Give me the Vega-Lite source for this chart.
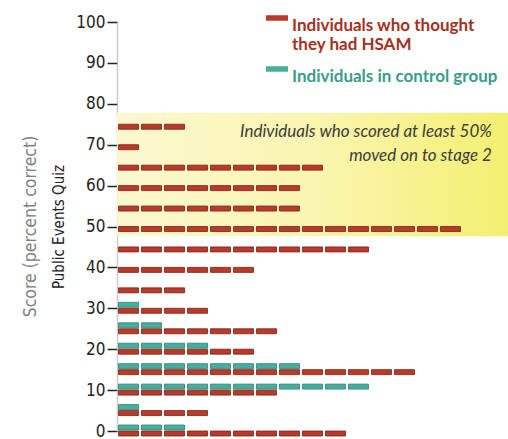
{
  "$schema": "https://vega.github.io/schema/vega-lite/v6.json",
  "width": 391,
  "height": 409,
  "autosize": {"type": "none"},
  "padding": {"left": 117, "top": 22, "right": 0, "bottom": 8},
  "background": "white",
  "config": {"view": {"stroke": null}},
  "title": {"text": "Score (percent correct)", "orient": "left", "anchor": "middle", "font": "DejaVu Sans Condensed, sans-serif", "fontSize": 17.5, "fontWeight": "normal", "color": "#808080", "offset": 12},
  "datasets": {
    "band": [{"lo": 47.6, "hi": 77.8}],
    "note": [{"x": 16.8, "y": 73, "t": "Individuals who scored at least 50%\nmoved on to stage 2"}],
    "dash": [
      {"g":"H","s":75,"i":1},{"g":"H","s":75,"i":2},{"g":"H","s":75,"i":3},
      {"g":"H","s":70,"i":1},
      {"g":"H","s":65,"i":1},{"g":"H","s":65,"i":2},{"g":"H","s":65,"i":3},{"g":"H","s":65,"i":4},{"g":"H","s":65,"i":5},{"g":"H","s":65,"i":6},{"g":"H","s":65,"i":7},{"g":"H","s":65,"i":8},{"g":"H","s":65,"i":9},
      {"g":"H","s":60,"i":1},{"g":"H","s":60,"i":2},{"g":"H","s":60,"i":3},{"g":"H","s":60,"i":4},{"g":"H","s":60,"i":5},{"g":"H","s":60,"i":6},{"g":"H","s":60,"i":7},{"g":"H","s":60,"i":8},
      {"g":"H","s":55,"i":1},{"g":"H","s":55,"i":2},{"g":"H","s":55,"i":3},{"g":"H","s":55,"i":4},{"g":"H","s":55,"i":5},{"g":"H","s":55,"i":6},{"g":"H","s":55,"i":7},{"g":"H","s":55,"i":8},
      {"g":"H","s":50,"i":1},{"g":"H","s":50,"i":2},{"g":"H","s":50,"i":3},{"g":"H","s":50,"i":4},{"g":"H","s":50,"i":5},{"g":"H","s":50,"i":6},{"g":"H","s":50,"i":7},{"g":"H","s":50,"i":8},{"g":"H","s":50,"i":9},{"g":"H","s":50,"i":10},{"g":"H","s":50,"i":11},{"g":"H","s":50,"i":12},{"g":"H","s":50,"i":13},{"g":"H","s":50,"i":14},{"g":"H","s":50,"i":15},
      {"g":"H","s":45,"i":1},{"g":"H","s":45,"i":2},{"g":"H","s":45,"i":3},{"g":"H","s":45,"i":4},{"g":"H","s":45,"i":5},{"g":"H","s":45,"i":6},{"g":"H","s":45,"i":7},{"g":"H","s":45,"i":8},{"g":"H","s":45,"i":9},{"g":"H","s":45,"i":10},{"g":"H","s":45,"i":11},
      {"g":"H","s":40,"i":1},{"g":"H","s":40,"i":2},{"g":"H","s":40,"i":3},{"g":"H","s":40,"i":4},{"g":"H","s":40,"i":5},{"g":"H","s":40,"i":6},
      {"g":"H","s":35,"i":1},{"g":"H","s":35,"i":2},{"g":"H","s":35,"i":3},
      {"g":"H","s":30,"i":1},{"g":"H","s":30,"i":2},{"g":"H","s":30,"i":3},{"g":"H","s":30,"i":4},
      {"g":"H","s":25,"i":1},{"g":"H","s":25,"i":2},{"g":"H","s":25,"i":3},{"g":"H","s":25,"i":4},{"g":"H","s":25,"i":5},{"g":"H","s":25,"i":6},{"g":"H","s":25,"i":7},
      {"g":"H","s":20,"i":1},{"g":"H","s":20,"i":2},{"g":"H","s":20,"i":3},{"g":"H","s":20,"i":4},{"g":"H","s":20,"i":5},{"g":"H","s":20,"i":6},
      {"g":"H","s":15,"i":1},{"g":"H","s":15,"i":2},{"g":"H","s":15,"i":3},{"g":"H","s":15,"i":4},{"g":"H","s":15,"i":5},{"g":"H","s":15,"i":6},{"g":"H","s":15,"i":7},{"g":"H","s":15,"i":8},{"g":"H","s":15,"i":9},{"g":"H","s":15,"i":10},{"g":"H","s":15,"i":11},{"g":"H","s":15,"i":12},{"g":"H","s":15,"i":13},
      {"g":"H","s":10,"i":1},{"g":"H","s":10,"i":2},{"g":"H","s":10,"i":3},{"g":"H","s":10,"i":4},{"g":"H","s":10,"i":5},{"g":"H","s":10,"i":6},{"g":"H","s":10,"i":7},
      {"g":"H","s":5,"i":1},{"g":"H","s":5,"i":2},{"g":"H","s":5,"i":3},{"g":"H","s":5,"i":4},
      {"g":"H","s":0,"i":1},{"g":"H","s":0,"i":2},{"g":"H","s":0,"i":3},{"g":"H","s":0,"i":4},{"g":"H","s":0,"i":5},{"g":"H","s":0,"i":6},{"g":"H","s":0,"i":7},{"g":"H","s":0,"i":8},{"g":"H","s":0,"i":9},{"g":"H","s":0,"i":10},
      {"g":"C","s":30,"i":1},
      {"g":"C","s":25,"i":1},{"g":"C","s":25,"i":2},
      {"g":"C","s":20,"i":1},{"g":"C","s":20,"i":2},{"g":"C","s":20,"i":3},{"g":"C","s":20,"i":4},
      {"g":"C","s":15,"i":1},{"g":"C","s":15,"i":2},{"g":"C","s":15,"i":3},{"g":"C","s":15,"i":4},{"g":"C","s":15,"i":5},{"g":"C","s":15,"i":6},{"g":"C","s":15,"i":7},{"g":"C","s":15,"i":8},
      {"g":"C","s":10,"i":1},{"g":"C","s":10,"i":2},{"g":"C","s":10,"i":3},{"g":"C","s":10,"i":4},{"g":"C","s":10,"i":5},{"g":"C","s":10,"i":6},{"g":"C","s":10,"i":7},{"g":"C","s":10,"i":8},{"g":"C","s":10,"i":9},{"g":"C","s":10,"i":10},{"g":"C","s":10,"i":11},
      {"g":"C","s":5,"i":1},
      {"g":"C","s":0,"i":1},{"g":"C","s":0,"i":2},{"g":"C","s":0,"i":3}
    ]
  },
  "layer": [
    {
      "data": {"name": "band"},
      "mark": {"type": "rect", "fill": {"gradient": "linear", "x1": 0, "y1": 0, "x2": 1, "y2": 0, "stops": [{"offset": 0, "color": "#fbf8d0"}, {"offset": 0.5, "color": "#faf5b0"}, {"offset": 1, "color": "#f3ef70"}]}},
      "encoding": {
        "y": {
          "field": "lo", "type": "quantitative",
          "scale": {"domain": [0, 100], "nice": false},
          "axis": {
            "title": "Public Events Quiz",
            "titleFont": "DejaVu Sans Condensed, sans-serif",
            "titleFontSize": 15,
            "titleFontWeight": "normal",
            "titleColor": "#222222",
            "titlePadding": 9,
            "values": [0, 10, 20, 30, 40, 50, 60, 70, 80, 90, 100],
            "labelFont": "DejaVu Sans Condensed, sans-serif",
            "labelFontSize": 17,
            "labelColor": "#222222",
            "labelPadding": 2,
            "tickSize": 10,
            "tickColor": "#222222",
            "tickWidth": 1.5,
            "domainColor": "#9a9a9a",
            "domainDash": [1, 1],
            "domainWidth": 1.5,
            "grid": false
          }
        },
        "y2": {"field": "hi"}
      }
    },
    {
      "data": {"name": "note"},
      "mark": {"type": "text", "align": "right", "baseline": "middle", "font": "Lato, sans-serif", "fontStyle": "italic", "fontSize": 17, "lineHeight": 24, "color": "#3c3c3c", "lineBreak": "\n"},
      "encoding": {
        "x": {"field": "x", "type": "quantitative", "scale": {"domain": [0.5, 17.5], "nice": false, "zero": false}, "axis": null},
        "y": {"field": "y", "type": "quantitative"},
        "text": {"field": "t"}
      }
    },
    {
      "data": {"name": "dash"},
      "transform": [{"filter": "datum.g == 'H'"}],
      "mark": {"type": "tick", "orient": "horizontal", "size": 20, "thickness": 5, "yOffset": 2.5, "stroke": "#7c2216", "strokeWidth": 0.8, "opacity": 1},
      "encoding": {
        "x": {"field": "i", "type": "quantitative"},
        "y": {"field": "s", "type": "quantitative"},
        "color": {
          "field": "g", "type": "nominal",
          "scale": {"domain": ["H", "C"], "range": ["#b93a28", "#49ad9d"]},
          "legend": {
            "orient": "none",
            "legendX": 149,
            "legendY": -15,
            "title": null,
            "symbolType": "M-1,-0.25H1V0.25H-1Z",
            "symbolSize": 484,
            "symbolStrokeWidth": 0,
            "symbolOpacity": 1,
            "labelExpr": "datum.value == 'H' ? ['Individuals who thought', 'they had HSAM'] : 'Individuals in control group'",
            "labelColor": {"expr": "datum.value == 'H' ? '#a5301d' : '#3a9c8c'"},
            "labelFont": "Lato, sans-serif",
            "labelFontSize": 17,
            "labelFontWeight": "bold",
            "labelLimit": 400,
            "labelBaseline": "top",
            "labelOffset": 4,
            "rowPadding": 5,
            "encode": {
              "labels": {"update": {"dy": {"value": -12}, "lineHeight": {"value": 22}}}
            }
          }
        }
      }
    },
    {
      "data": {"name": "dash"},
      "transform": [{"filter": "datum.g == 'C'"}],
      "mark": {"type": "tick", "orient": "horizontal", "size": 20, "thickness": 5, "yOffset": -3.5, "stroke": "#2c8476", "strokeWidth": 0.8, "opacity": 1},
      "encoding": {
        "x": {"field": "i", "type": "quantitative"},
        "y": {"field": "s", "type": "quantitative"},
        "color": {"field": "g", "type": "nominal"}
      }
    }
  ]
}
